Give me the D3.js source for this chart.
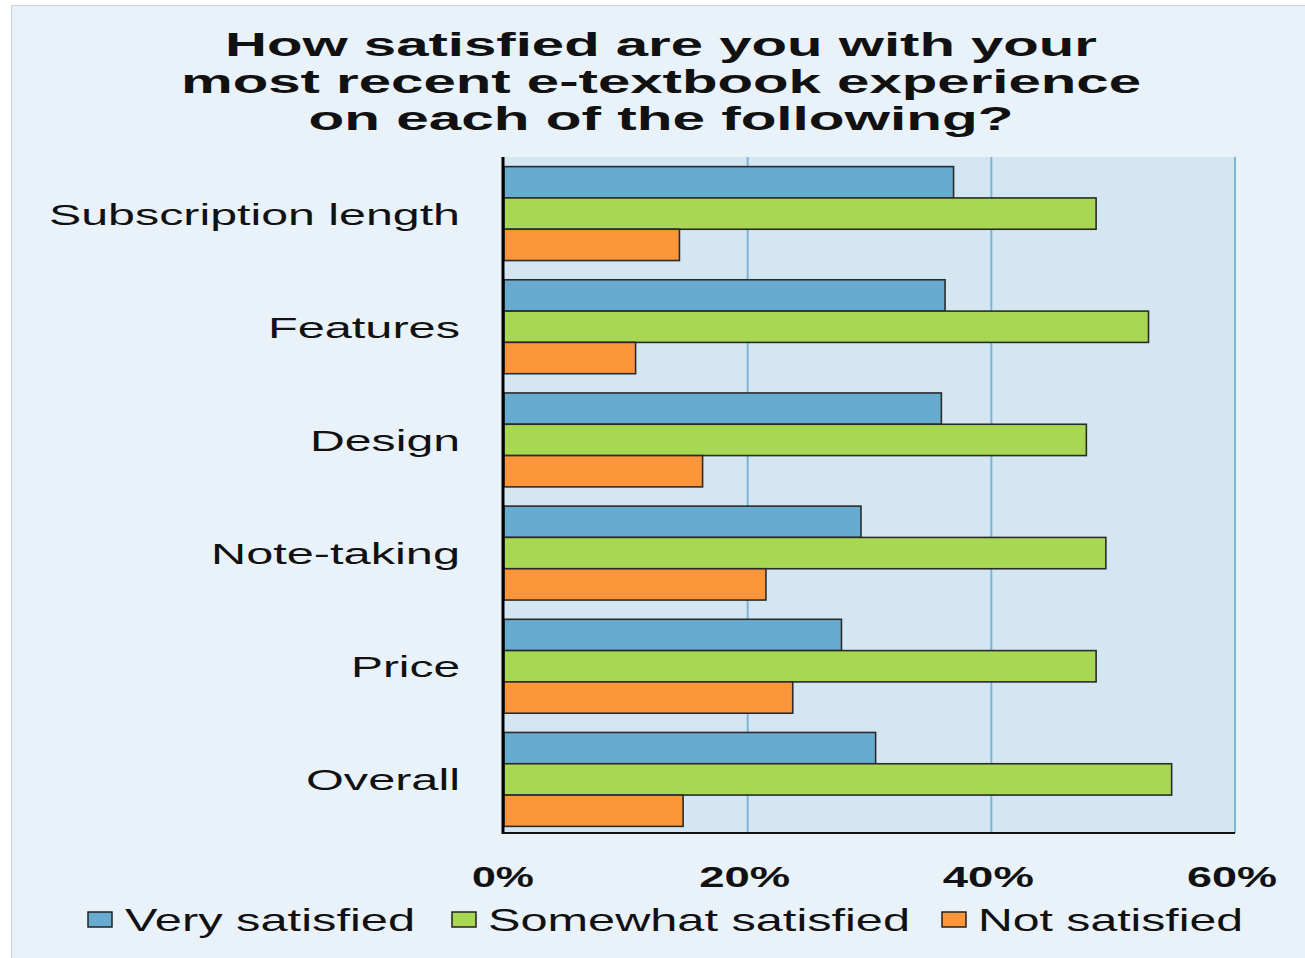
<!DOCTYPE html>
<html>
<head>
<meta charset="utf-8">
<script src="https://cdn.jsdelivr.net/npm/d3@7/dist/d3.min.js"></script>
<style>
  html, body { margin: 0; padding: 0; background: #ffffff; }
  svg { display: block; }
  text { font-family: "Liberation Sans", Arial, sans-serif; fill: #111; }
</style>
</head>
<body>
<svg id="chart" width="1305" height="958"></svg>
<script>
// Survey categories (top to bottom) and the share of respondents per answer
const categories = ["Subscription length", "Features", "Design", "Note-taking", "Price", "Overall"];
const verySatisfied = [36.9, 36.2, 35.9, 29.3, 27.7, 30.5];
const somewhatSatisfied = [48.6, 52.9, 47.8, 49.4, 48.6, 54.8];
const notSatisfied = [14.4, 10.8, 16.3, 21.5, 23.7, 14.7];
const seriesNames = ["Very satisfied", "Somewhat satisfied", "Not satisfied"];
const xTicks = [0, 20, 40, 60];
const titleLines = [
  "How satisfied are you with your",
  "most recent e-textbook experience",
  "on each of the following?"
];

const colors = ["#67abd0", "#a8d853", "#fd953b"];
const seriesValues = [verySatisfied, somewhatSatisfied, notSatisfied];

const svg = d3.select("#chart");

// panel background
svg.append("rect")
  .attr("x", 11.5).attr("y", 5.5).attr("width", 1310).attr("height", 970)
  .attr("fill", "#e9f1f9").attr("stroke", "#c9d1da").attr("stroke-width", 1);

const plot = { left: 504, right: 1235, top: 157, bottom: 833 };

const x = d3.scaleLinear().domain([0, 60]).range([plot.left, plot.right]);
const y = d3.scaleBand().domain(categories).range([plot.top, plot.bottom + 3]).paddingInner(0.17).paddingOuter(0.085);
const ySeries = d3.scaleBand().domain(seriesNames).range([0, y.bandwidth()]);

// plot area
svg.append("rect")
  .attr("x", plot.left).attr("y", plot.top)
  .attr("width", plot.right - plot.left).attr("height", plot.bottom - plot.top)
  .attr("fill", "#d4e6f2");

// vertical gridlines
svg.append("g")
  .selectAll("line")
  .data(xTicks.filter(t => t > 0))
  .join("line")
  .attr("x1", d => x(d)).attr("x2", d => x(d))
  .attr("y1", plot.top).attr("y2", plot.bottom)
  .attr("stroke", "#7db4d6").attr("stroke-width", 2);

// bars
const rows = categories.map((c, i) => ({ category: c, values: seriesValues.map(s => s[i]) }));
const groups = svg.append("g").selectAll("g")
  .data(rows)
  .join("g")
  .attr("transform", d => `translate(0,${y(d.category)})`);

groups.selectAll("rect")
  .data(d => d.values.map((v, j) => ({ series: seriesNames[j], value: v, color: colors[j] })))
  .join("rect")
  .attr("x", x(0))
  .attr("y", d => ySeries(d.series))
  .attr("width", d => x(d.value) - x(0))
  .attr("height", ySeries.bandwidth())
  .attr("fill", d => d.color)
  .attr("stroke", "#2b2b2b")
  .attr("stroke-width", 1.6);

// axis lines
svg.append("line")
  .attr("x1", plot.left - 1).attr("x2", plot.left - 1)
  .attr("y1", plot.top).attr("y2", plot.bottom + 1)
  .attr("stroke", "#000").attr("stroke-width", 3);
svg.append("line")
  .attr("x1", plot.left - 2).attr("x2", plot.right)
  .attr("y1", plot.bottom).attr("y2", plot.bottom)
  .attr("stroke", "#111").attr("stroke-width", 2.2);

// helper: stretch text horizontally to a given width
function stretched(sel, width) {
  sel.attr("textLength", width).attr("lengthAdjust", "spacingAndGlyphs");
}

// title
const titleWidths = [872, 960, 705];
const titleBaselines = [56, 93, 130];
titleLines.forEach((line, i) => {
  svg.append("text")
    .attr("x", 661).attr("y", titleBaselines[i])
    .attr("text-anchor", "middle")
    .attr("font-size", 34).attr("font-weight", "bold")
    .text(line)
    .call(stretched, titleWidths[i]);
});

// category labels
const catWidths = [411, 192, 150, 249, 109, 154];
svg.append("g").selectAll("text")
  .data(categories)
  .join("text")
  .attr("x", 460)
  .attr("y", d => y(d) + y.bandwidth() / 2 + 11)
  .attr("text-anchor", "end")
  .attr("font-size", 29)
  .text(d => d)
  .each(function (d, i) { d3.select(this).call(stretched, catWidths[i]); });

// x tick labels
const tickWidths = [62, 91, 91, 90];
svg.append("g").selectAll("text")
  .data(xTicks)
  .join("text")
  .attr("x", d => x(d) + (d === 0 ? -1 : -3))
  .attr("y", 887)
  .attr("text-anchor", "middle")
  .attr("font-size", 29).attr("font-weight", "bold")
  .text(d => d + "%")
  .each(function (d, i) { d3.select(this).call(stretched, tickWidths[i]); });

// legend
const legendItems = [
  { name: seriesNames[0], color: colors[0], sx: 88, tx: 125, tw: 290 },
  { name: seriesNames[1], color: colors[1], sx: 452, tx: 488, tw: 422 },
  { name: seriesNames[2], color: colors[2], sx: 942, tx: 978, tw: 265 }
];
const legend = svg.append("g");
legendItems.forEach(item => {
  legend.append("rect")
    .attr("x", item.sx).attr("y", 912)
    .attr("width", 24).attr("height", 15)
    .attr("fill", item.color).attr("stroke", "#222").attr("stroke-width", 1.5);
  legend.append("text")
    .attr("x", item.tx).attr("y", 931)
    .attr("font-size", 32)
    .text(item.name)
    .call(stretched, item.tw);
});
</script>
</body>
</html>
